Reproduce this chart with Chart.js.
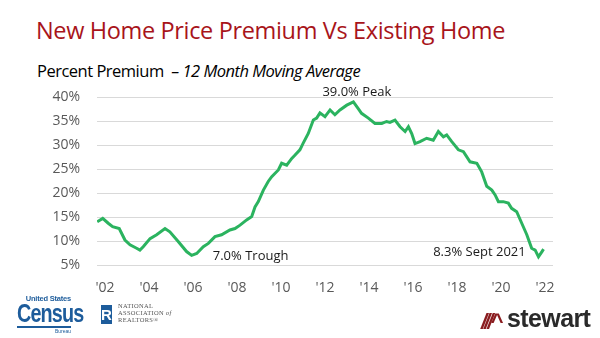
<!DOCTYPE html>
<html lang="en">
<head>
<meta charset="UTF-8">
<title>New Home Price Premium Vs Existing Home</title>
<script src="https://cdn.jsdelivr.net/npm/chart.js"></script>
<style>
  html, body { margin: 0; padding: 0; background: #fff; }
  body { width: 600px; height: 338px; position: relative; overflow: hidden; font-family: "Open Sans", sans-serif; }
  #chart { position: absolute; left: 0; top: 0; }
  .title { position: absolute; left: 36px; top: 14px; font-size: 23.5px; color: #A8141A; white-space: nowrap; letter-spacing: -0.35px; }
  .subtitle { position: absolute; left: 37px; top: 59px; font-size: 16.5px; color: #000; white-space: nowrap; letter-spacing: -0.5px; }
  .subtitle i { font-style: italic; }
  .census { position: absolute; left: 17px; top: 295px; width: 54px; color: #1d5c9b; font-family: "Liberation Sans Narrow", "Liberation Sans", sans-serif; }
  .census .us { font-size: 7.5px; font-weight: bold; text-align: right; line-height: 8px; letter-spacing: -0.2px; }
  .census .cen { font-size: 23px; font-weight: bold; line-height: 21px; letter-spacing: -1px; transform: scale(0.86, 1.1); transform-origin: left center; white-space: nowrap; }
  .census .bar { height: 2px; background: #1d5c9b; margin-top: 2px; }
  .census .bureau { font-size: 5px; text-align: right; line-height: 6px; }
  .nar-box { position: absolute; left: 101px; top: 305px; width: 11px; height: 19px; background: #1d5c9b; color: #fff; font: bold 15px "Liberation Sans", sans-serif; text-align: center; line-height: 19px; }
  .nar-text { position: absolute; left: 118px; top: 302px; font: 6.5px "Liberation Serif", serif; color: #555; line-height: 7px; letter-spacing: 0.3px; }
  .stew-mark { position: absolute; left: 481px; top: 309px; font: italic bold 22px "Liberation Sans", sans-serif; color: #8a1c1f; letter-spacing: -3px; }
  .stewart { position: absolute; left: 507px; top: 304px; font: bold 25px "Liberation Sans", sans-serif; color: #2a2a2a; letter-spacing: -0.6px; }
</style>
</head>
<body>
  <div class="title">New Home Price Premium Vs Existing Home</div>
  <div class="subtitle">Percent Premium&nbsp; <i>– 12 Month Moving Average</i></div>
  <canvas id="chart" width="600" height="338"></canvas>

  <div class="census">
    <div class="us">United States</div>
    <div class="cen">Census</div>
    <div class="bar"></div>
    <div class="bureau">Bureau</div>
  </div>
  <div class="nar-box">R</div>
  <div class="nar-text">NATIONAL<br>ASSOCIATION <i>of</i><br>REALTORS®</div>
  <div class="stew-mark">///^</div>
  <div class="stewart">stewart</div>

<script>
// time in decimal years
const years = [
  2001.65, 2001.90, 2002.15, 2002.35, 2002.65, 2002.91, 2003.14, 2003.44, 2003.59, 2003.74,
  2004.05, 2004.35, 2004.73, 2004.95, 2005.33, 2005.71, 2005.94, 2006.17, 2006.47, 2006.70,
  2007.00, 2007.30, 2007.68, 2007.91, 2008.14, 2008.44, 2008.67, 2008.82, 2008.97, 2009.20,
  2009.42, 2009.58, 2009.88, 2010.03, 2010.26, 2010.49, 2010.64, 2010.86, 2011.01, 2011.24,
  2011.47, 2011.62, 2011.77, 2012.00, 2012.23, 2012.45, 2012.68, 2012.99, 2013.29, 2013.51,
  2013.66, 2013.97, 2014.27, 2014.58, 2014.80, 2014.95, 2015.18, 2015.41, 2015.64, 2015.79,
  2015.94, 2016.09, 2016.32, 2016.62, 2016.92, 2017.15, 2017.38, 2017.53, 2017.76, 2018.06,
  2018.29, 2018.59, 2018.90, 2019.12, 2019.35, 2019.58, 2019.73, 2019.88, 2020.10, 2020.33,
  2020.48, 2020.71, 2020.94, 2021.17, 2021.39, 2021.55, 2021.70, 2021.86, 2021.93
];

// percent premium of new over existing home prices
const premium = [
  14.0, 14.7, 13.7, 13.0, 12.6, 10.2, 9.2, 8.5, 8.1, 8.8,
  10.5, 11.3, 12.6, 11.9, 9.9, 7.8, 7.0, 7.4, 8.8, 9.5,
  10.9, 11.3, 12.3, 12.6, 13.3, 14.4, 15.1, 17.1, 18.2, 20.6,
  22.4, 23.4, 24.8, 26.2, 25.8, 27.2, 27.9, 29.0, 30.4, 32.4,
  35.2, 35.6, 36.7, 35.9, 37.3, 36.3, 37.3, 38.3, 39.0, 37.6,
  36.6, 35.6, 34.5, 34.5, 34.9, 34.7, 35.2, 33.8, 32.8, 33.8,
  32.4, 30.3, 30.7, 31.4, 31.0, 32.8, 31.7, 32.1, 30.7, 29.0,
  28.6, 26.5, 26.2, 24.4, 21.4, 20.6, 19.6, 18.2, 18.2, 17.9,
  16.8, 16.1, 13.7, 11.3, 8.5, 8.1, 6.7, 7.8, 8.3
];

const xTicks = [2002, 2004, 2006, 2008, 2010, 2012, 2014, 2016, 2018, 2020, 2022];
const yTicks = [5, 10, 15, 20, 25, 30, 35, 40];

const callouts = [
  { text: '39.0% Peak', year: 2013.45, value: 41.0, align: 'center' },
  { text: '7.0% Trough', year: 2006.9, value: 6.9, align: 'left' },
  { text: '8.3% Sept 2021', year: 2021.12, value: 7.7, align: 'right' }
];

const calloutPlugin = {
  id: 'callouts',
  afterDatasetsDraw(chart) {
    const ctx = chart.ctx;
    const xs = chart.scales.x, ys = chart.scales.y;
    ctx.save();
    ctx.font = '13px "Open Sans", sans-serif';
    ctx.fillStyle = '#1a1a1a';
    ctx.textBaseline = 'middle';
    callouts.forEach(c => {
      ctx.textAlign = c.align;
      ctx.fillText(c.text, xs.getPixelForValue(c.year), ys.getPixelForValue(c.value));
    });
    ctx.restore();
  }
};

new Chart(document.getElementById('chart'), {
  type: 'line',
  data: {
    datasets: [{
      data: years.map((y, i) => ({ x: y, y: premium[i] })),
      borderColor: '#2bb35f',
      borderWidth: 3,
      pointRadius: 0,
      tension: 0
    }]
  },
  options: {
    responsive: false,
    animation: false,
    layout: { padding: { top: 97, right: 47, bottom: 38, left: 0 } },
    plugins: { legend: { display: false }, tooltip: { enabled: false } },
    scales: {
      x: {
        type: 'linear',
        min: 2001.64,
        max: 2022.36,
        afterBuildTicks: s => { s.ticks = xTicks.map(v => ({ value: v })); },
        afterFit: s => { s.height = 35; },
        grid: { display: false },
        border: { display: false },
        ticks: {
          padding: 7,
          color: '#595959',
          font: { family: 'Open Sans', size: 14 },
          callback: v => "'" + String(v).slice(2)
        }
      },
      y: {
        min: 5,
        max: 40,
        afterBuildTicks: s => { s.ticks = yTicks.map(v => ({ value: v })); },
        afterFit: s => { s.width = 97; },
        grid: { color: '#d9d9d9', drawTicks: false },
        border: { display: false },
        ticks: {
          padding: 17,
          color: '#595959',
          font: { family: 'Open Sans', size: 14 },
          callback: v => v + '%'
        }
      }
    }
  },
  plugins: [calloutPlugin]
});
</script>
</body>
</html>
